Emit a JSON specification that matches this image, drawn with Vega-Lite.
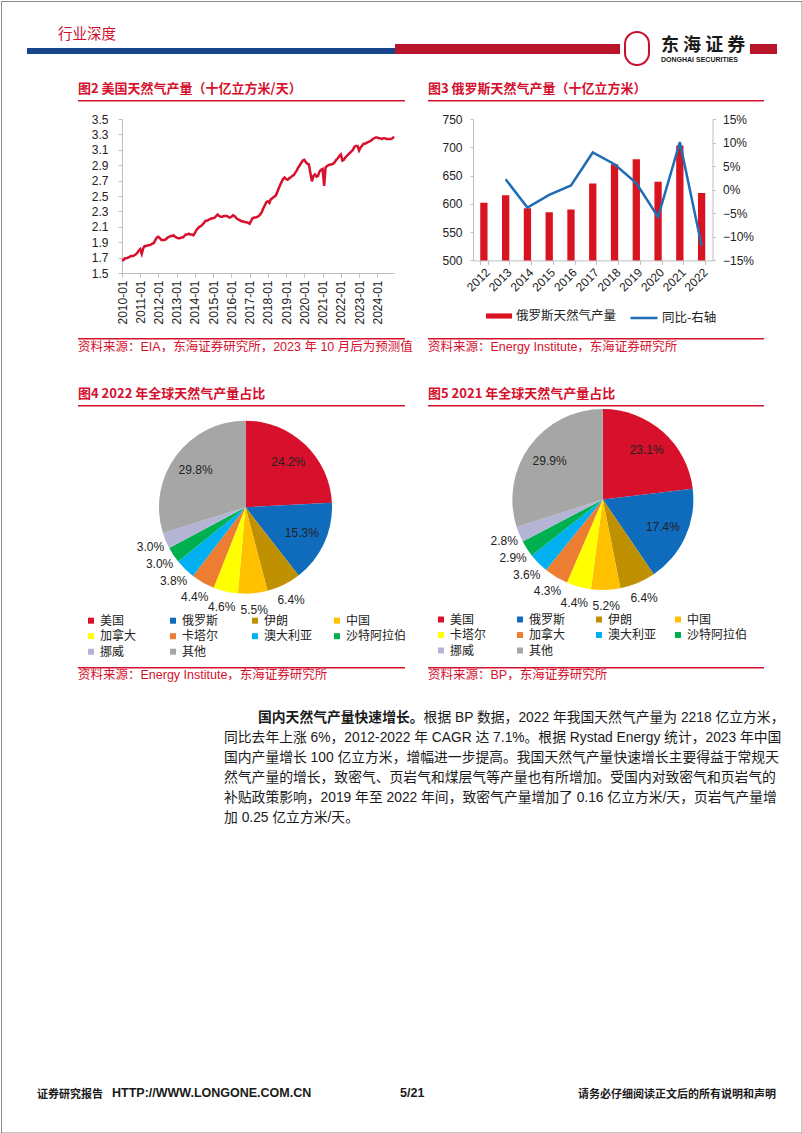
{
"$schema": "https://vega.github.io/schema/vega-lite/v6.json",
"padding": 0,
"background": "white",
"bounds": "flush",
"spacing": 0,
"resolve": {"scale": {"color": "independent", "fill": "independent", "stroke": "independent", "theta": "independent", "x": "independent", "y": "independent"}, "legend": {"color": "independent", "fill": "independent", "stroke": "independent"}},
"config": {
  "view": {"stroke": null},
  "font": "Liberation Sans, Noto Sans CJK SC",
  "axis": {"labelFont": "Liberation Sans", "labelFontSize": 12, "labelColor": "#222222", "domainColor": "#BFBFBF", "tickColor": "#BFBFBF", "grid": false, "labelFlush": false, "labelOverlap": false, "labelBound": false}
},
"datasets": {
  "e": [],
  "us": [
{"d":"2010-01","v":1.66},{"d":"2010-02","v":1.67},{"d":"2010-03","v":1.69},{"d":"2010-04","v":1.69},{"d":"2010-05","v":1.70},{"d":"2010-06","v":1.71},{"d":"2010-07","v":1.72},{"d":"2010-08","v":1.72},{"d":"2010-09","v":1.73},{"d":"2010-10","v":1.74},{"d":"2010-11","v":1.76},{"d":"2010-12","v":1.79},
{"d":"2011-01","v":1.81},{"d":"2011-02","v":1.75},{"d":"2011-03","v":1.82},{"d":"2011-04","v":1.85},{"d":"2011-05","v":1.85},{"d":"2011-06","v":1.86},{"d":"2011-07","v":1.86},{"d":"2011-08","v":1.87},{"d":"2011-09","v":1.88},{"d":"2011-10","v":1.89},{"d":"2011-11","v":1.93},{"d":"2011-12","v":1.96},
{"d":"2012-01","v":1.97},{"d":"2012-02","v":1.95},{"d":"2012-03","v":1.93},{"d":"2012-04","v":1.93},{"d":"2012-05","v":1.93},{"d":"2012-06","v":1.94},{"d":"2012-07","v":1.96},{"d":"2012-08","v":1.97},{"d":"2012-09","v":1.98},{"d":"2012-10","v":1.98},{"d":"2012-11","v":1.99},{"d":"2012-12","v":1.97},
{"d":"2013-01","v":1.96},{"d":"2013-02","v":1.95},{"d":"2013-03","v":1.95},{"d":"2013-04","v":1.96},{"d":"2013-05","v":1.96},{"d":"2013-06","v":1.98},{"d":"2013-07","v":2.00},{"d":"2013-08","v":2.00},{"d":"2013-09","v":2.01},{"d":"2013-10","v":2.00},{"d":"2013-11","v":2.00},{"d":"2013-12","v":1.99},
{"d":"2014-01","v":2.02},{"d":"2014-02","v":2.06},{"d":"2014-03","v":2.08},{"d":"2014-04","v":2.10},{"d":"2014-05","v":2.11},{"d":"2014-06","v":2.13},{"d":"2014-07","v":2.15},{"d":"2014-08","v":2.18},{"d":"2014-09","v":2.18},{"d":"2014-10","v":2.19},{"d":"2014-11","v":2.20},{"d":"2014-12","v":2.21},
{"d":"2015-01","v":2.21},{"d":"2015-02","v":2.22},{"d":"2015-03","v":2.24},{"d":"2015-04","v":2.26},{"d":"2015-05","v":2.24},{"d":"2015-06","v":2.23},{"d":"2015-07","v":2.23},{"d":"2015-08","v":2.24},{"d":"2015-09","v":2.24},{"d":"2015-10","v":2.24},{"d":"2015-11","v":2.23},{"d":"2015-12","v":2.22},
{"d":"2016-01","v":2.23},{"d":"2016-02","v":2.25},{"d":"2016-03","v":2.24},{"d":"2016-04","v":2.22},{"d":"2016-05","v":2.20},{"d":"2016-06","v":2.19},{"d":"2016-07","v":2.18},{"d":"2016-08","v":2.17},{"d":"2016-09","v":2.17},{"d":"2016-10","v":2.16},{"d":"2016-11","v":2.16},{"d":"2016-12","v":2.15},
{"d":"2017-01","v":2.14},{"d":"2017-02","v":2.18},{"d":"2017-03","v":2.21},{"d":"2017-04","v":2.22},{"d":"2017-05","v":2.22},{"d":"2017-06","v":2.23},{"d":"2017-07","v":2.24},{"d":"2017-08","v":2.26},{"d":"2017-09","v":2.29},{"d":"2017-10","v":2.34},{"d":"2017-11","v":2.38},{"d":"2017-12","v":2.42},
{"d":"2018-01","v":2.43},{"d":"2018-02","v":2.41},{"d":"2018-03","v":2.46},{"d":"2018-04","v":2.47},{"d":"2018-05","v":2.49},{"d":"2018-06","v":2.50},{"d":"2018-07","v":2.54},{"d":"2018-08","v":2.59},{"d":"2018-09","v":2.64},{"d":"2018-10","v":2.68},{"d":"2018-11","v":2.72},{"d":"2018-12","v":2.74},
{"d":"2019-01","v":2.72},{"d":"2019-02","v":2.71},{"d":"2019-03","v":2.73},{"d":"2019-04","v":2.74},{"d":"2019-05","v":2.76},{"d":"2019-06","v":2.77},{"d":"2019-07","v":2.80},{"d":"2019-08","v":2.83},{"d":"2019-09","v":2.87},{"d":"2019-10","v":2.90},{"d":"2019-11","v":2.93},{"d":"2019-12","v":2.96},
{"d":"2020-01","v":2.97},{"d":"2020-02","v":2.94},{"d":"2020-03","v":2.92},{"d":"2020-04","v":2.91},{"d":"2020-05","v":2.80},{"d":"2020-06","v":2.69},{"d":"2020-07","v":2.76},{"d":"2020-08","v":2.78},{"d":"2020-09","v":2.75},{"d":"2020-10","v":2.76},{"d":"2020-11","v":2.82},{"d":"2020-12","v":2.84},
{"d":"2021-01","v":2.85},{"d":"2021-02","v":2.63},{"d":"2021-03","v":2.87},{"d":"2021-04","v":2.89},{"d":"2021-05","v":2.90},{"d":"2021-06","v":2.91},{"d":"2021-07","v":2.91},{"d":"2021-08","v":2.92},{"d":"2021-09","v":2.94},{"d":"2021-10","v":2.97},{"d":"2021-11","v":2.99},{"d":"2021-12","v":3.02},
{"d":"2022-01","v":3.04},{"d":"2022-02","v":2.96},{"d":"2022-03","v":2.97},{"d":"2022-04","v":3.00},{"d":"2022-05","v":3.02},{"d":"2022-06","v":3.04},{"d":"2022-07","v":3.06},{"d":"2022-08","v":3.08},{"d":"2022-09","v":3.10},{"d":"2022-10","v":3.14},{"d":"2022-11","v":3.15},{"d":"2022-12","v":3.15},
{"d":"2023-01","v":3.09},{"d":"2023-02","v":3.13},{"d":"2023-03","v":3.15},{"d":"2023-04","v":3.18},{"d":"2023-05","v":3.18},{"d":"2023-06","v":3.19},{"d":"2023-07","v":3.20},{"d":"2023-08","v":3.21},{"d":"2023-09","v":3.22},{"d":"2023-10","v":3.24},{"d":"2023-11","v":3.25},{"d":"2023-12","v":3.26},
{"d":"2024-01","v":3.26},{"d":"2024-02","v":3.25},{"d":"2024-03","v":3.25},{"d":"2024-04","v":3.24},{"d":"2024-05","v":3.25},{"d":"2024-06","v":3.25},{"d":"2024-07","v":3.24},{"d":"2024-08","v":3.24},{"d":"2024-09","v":3.24},{"d":"2024-10","v":3.24},{"d":"2024-11","v":3.25},{"d":"2024-12","v":3.27}
  ],
  "ru": [
    {"yr":"2012","p":602,"g":null},{"yr":"2013","p":615,"g":0.022},{"yr":"2014","p":592,"g":-0.038},{"yr":"2015","p":585,"g":-0.011},{"yr":"2016","p":590,"g":0.009},{"yr":"2017","p":636,"g":0.079},{"yr":"2018","p":670,"g":0.054},{"yr":"2019","p":679,"g":0.014},{"yr":"2020","p":639,"g":-0.058},{"yr":"2021","p":703,"g":0.101},{"yr":"2022","p":619,"g":-0.119}
  ],
  "p22": [
    {"c":"美国","s":0.242,"k":1},{"c":"俄罗斯","s":0.153,"k":2},{"c":"伊朗","s":0.064,"k":3},{"c":"中国","s":0.055,"k":4},{"c":"加拿大","s":0.046,"k":5},{"c":"卡塔尔","s":0.044,"k":6},{"c":"澳大利亚","s":0.038,"k":7},{"c":"沙特阿拉伯","s":0.030,"k":8},{"c":"挪威","s":0.030,"k":9},{"c":"其他","s":0.298,"k":10}
  ],
  "p21": [
    {"c":"美国","s":0.231,"k":1},{"c":"俄罗斯","s":0.174,"k":2},{"c":"伊朗","s":0.064,"k":3},{"c":"中国","s":0.052,"k":4},{"c":"卡塔尔","s":0.044,"k":5},{"c":"加拿大","s":0.043,"k":6},{"c":"澳大利亚","s":0.036,"k":7},{"c":"沙特阿拉伯","s":0.029,"k":8},{"c":"挪威","s":0.028,"k":9},{"c":"其他","s":0.299,"k":10}
  ],
  "para": [
    {"ln":1,"seg":"b","t":"国内天然气产量快速增长。"},
    {"ln":1,"seg":"r","t":"根据 BP 数据，2022 年我国天然气产量为 2218 亿立方米，"},
    {"ln":2,"seg":"n","t":"同比去年上涨 6%，2012-2022 年 CAGR 达 7.1%。根据 Rystad Energy 统计，2023 年中国"},
    {"ln":3,"seg":"n","t":"国内产量增长 100 亿立方米，增幅进一步提高。我国天然气产量快速增长主要得益于常规天"},
    {"ln":4,"seg":"n","t":"然气产量的增长，致密气、页岩气和煤层气等产量也有所增加。受国内对致密气和页岩气的"},
    {"ln":5,"seg":"n","t":"补贴政策影响，2019 年至 2022 年间，致密气产量增加了 0.16 亿立方米/天，页岩气产量增"},
    {"ln":6,"seg":"n","t":"加 0.25 亿立方米/天。"}
  ]
},
"hconcat": [
  {
    "columns": 6, "spacing": 0, "bounds": "flush", "align": "each",
    "concat": [
      {"width": 26, "height": 43, "data": {"name": "e"}, "mark": "point"},
      {"width": 31, "height": 1, "data": {"name": "e"}, "mark": "point"},
      {"width": 337, "height": 1, "data": {"name": "e"}, "mark": "point"},
      {"width": 225, "height": 1, "data": {"name": "e"}, "mark": "point"},
      {"width": 130, "height": 1, "data": {"name": "e"}, "mark": "point"},
      {"width": 27, "height": 1, "data": {"name": "e"}, "mark": "point"},

      {"width": 26, "height": 4, "data": {"name": "e"}, "mark": "point"},
      {"width": 31, "height": 4, "data": {"name": "e"}, "mark": "point"},
      {"width": 337, "height": 4, "data": {"name": "e"}, "mark": "point",
       "title": {"text": "行业深度", "anchor": "start", "frame": "group", "orient": "top", "offset": 1.4, "font": "Noto Sans CJK SC", "fontSize": 14.5, "fontWeight": "normal", "color": "#D20A2B"}},
      {"width": 225, "height": 4, "view": {"fill": "#B8142A"}, "data": {"name": "e"}, "mark": "point"},
      {"width": 130, "height": 4, "data": {"name": "e"}, "mark": "point",
       "title": {"text": "东 海 证 券", "subtitle": "DONGHAI SECURITIES", "anchor": "start", "frame": "group", "orient": "top", "dx": 41, "offset": -19, "font": "Noto Sans CJK SC", "fontSize": 18, "fontWeight": "bold", "color": "#1a1a1a", "subtitleFont": "Liberation Sans", "subtitleFontSize": 7, "subtitleFontWeight": "bold", "subtitleColor": "#1a1a1a", "subtitlePadding": 1.5}},
      {"width": 27, "height": 4, "view": {"fill": "#B8142A"}, "data": {"name": "e"}, "mark": "point"},

      {"width": 26, "height": 6, "data": {"name": "e"}, "mark": "point"},
      {"width": 31, "height": 6, "view": {"fill": "#17468C"}, "data": {"name": "e"}, "mark": "point"},
      {"width": 337, "height": 6, "view": {"fill": "#17468C"}, "data": {"name": "e"}, "mark": "point"},
      {"width": 225, "height": 6, "view": {"fill": "#B8142A"}, "data": {"name": "e"}, "mark": "point"},
      {"width": 130, "height": 6, "data": {"name": "e"}, "mark": "point"},
      {"width": 27, "height": 6, "view": {"fill": "#B8142A"}, "data": {"name": "e"}, "mark": "point"}
    ]
  },
  {
    "columns": 2, "spacing": 0, "bounds": "flush", "align": "each",
    "concat": [
      {"width": 624, "height": 31, "data": {"name": "e"}, "mark": "point"},
      {"width": 1, "height": 1, "data": {"name": "e"}, "mark": "point"},
      {"width": 1, "height": 1, "data": {"name": "e"}, "mark": "point"},
      {"width": 24, "height": 33, "view": {"stroke": "#C8102E", "strokeWidth": 2, "cornerRadius": 12}, "data": {"name": "e"}, "mark": "point"}
    ]
  },
  {
    "columns": 4, "spacing": 0, "bounds": "flush", "align": "each",
    "concat": [
      {"width": 77, "height": 98.5, "data": {"name": "e"}, "mark": "point"},
      {"width": 1, "height": 1, "data": {"name": "e"}, "mark": "point"},
      {"width": 23, "height": 1, "data": {"name": "e"}, "mark": "point"},
      {"width": 1, "height": 1, "data": {"name": "e"}, "mark": "point"},

      {"width": 1, "height": 1.5, "data": {"name": "e"}, "mark": "point"},
      {"width": 327, "height": 1.5, "view": {"fill": "#D5102D"}, "data": {"name": "e"}, "mark": "point",
       "title": {"text": "图2  美国天然气产量（十亿立方米/天）", "anchor": "start", "frame": "group", "orient": "top", "offset": 4.5, "font": "Noto Sans CJK SC", "fontSize": 13, "fontWeight": "bold", "color": "#D5102D"}},
      {"width": 23, "height": 1.5, "data": {"name": "e"}, "mark": "point"},
      {"width": 336, "height": 1.5, "view": {"fill": "#D5102D"}, "data": {"name": "e"}, "mark": "point",
       "title": {"text": "图3  俄罗斯天然气产量（十亿立方米）", "anchor": "start", "frame": "group", "orient": "top", "offset": 4.5, "font": "Noto Sans CJK SC", "fontSize": 13, "fontWeight": "bold", "color": "#D5102D"}},

      {"width": 1, "height": 236, "data": {"name": "e"}, "mark": "point"},
      {"width": 1, "height": 1, "data": {"name": "e"}, "mark": "point"},
      {"width": 1, "height": 1, "data": {"name": "e"}, "mark": "point"},
      {"width": 1, "height": 1, "data": {"name": "e"}, "mark": "point"},

      {"width": 1, "height": 1.5, "data": {"name": "e"}, "mark": "point"},
      {"width": 327, "height": 1.5, "view": {"fill": "#D5102D"}, "data": {"name": "e"}, "mark": "point",
       "title": {"text": "资料来源：EIA，东海证券研究所，2023 年 10 月后为预测值", "anchor": "start", "frame": "group", "orient": "bottom", "offset": 1.5, "font": "Liberation Sans, Noto Sans CJK SC", "fontSize": 12.5, "fontWeight": "normal", "color": "#D5102D"}},
      {"width": 23, "height": 1.5, "data": {"name": "e"}, "mark": "point"},
      {"width": 336, "height": 1.5, "view": {"fill": "#D5102D"}, "data": {"name": "e"}, "mark": "point",
       "title": {"text": "资料来源：Energy Institute，东海证券研究所", "anchor": "start", "frame": "group", "orient": "bottom", "offset": 1.5, "font": "Liberation Sans, Noto Sans CJK SC", "fontSize": 12.5, "fontWeight": "normal", "color": "#D5102D"}},

      {"width": 1, "height": 65, "data": {"name": "e"}, "mark": "point"},
      {"width": 1, "height": 1, "data": {"name": "e"}, "mark": "point"},
      {"width": 1, "height": 1, "data": {"name": "e"}, "mark": "point"},
      {"width": 1, "height": 1, "data": {"name": "e"}, "mark": "point"},

      {"width": 1, "height": 1.5, "data": {"name": "e"}, "mark": "point"},
      {"width": 327, "height": 1.5, "view": {"fill": "#D5102D"}, "data": {"name": "e"}, "mark": "point",
       "title": {"text": "图4  2022 年全球天然气产量占比", "anchor": "start", "frame": "group", "orient": "top", "offset": 4.5, "font": "Noto Sans CJK SC", "fontSize": 13, "fontWeight": "bold", "color": "#D5102D"}},
      {"width": 23, "height": 1.5, "data": {"name": "e"}, "mark": "point"},
      {"width": 336, "height": 1.5, "view": {"fill": "#D5102D"}, "data": {"name": "e"}, "mark": "point",
       "title": {"text": "图5  2021 年全球天然气产量占比", "anchor": "start", "frame": "group", "orient": "top", "offset": 4.5, "font": "Noto Sans CJK SC", "fontSize": 13, "fontWeight": "bold", "color": "#D5102D"}},

      {"width": 1, "height": 259.3, "data": {"name": "e"}, "mark": "point"},
      {"width": 1, "height": 1, "data": {"name": "e"}, "mark": "point"},
      {"width": 1, "height": 1, "data": {"name": "e"}, "mark": "point"},
      {"width": 1, "height": 1, "data": {"name": "e"}, "mark": "point"},

      {"width": 1, "height": 1.5, "data": {"name": "e"}, "mark": "point"},
      {"width": 327, "height": 1.5, "view": {"fill": "#D5102D"}, "data": {"name": "e"}, "mark": "point",
       "title": {"text": "资料来源：Energy Institute，东海证券研究所", "anchor": "start", "frame": "group", "orient": "bottom", "offset": 0.5, "font": "Liberation Sans, Noto Sans CJK SC", "fontSize": 12.5, "fontWeight": "normal", "color": "#D5102D"}},
      {"width": 23, "height": 1.5, "data": {"name": "e"}, "mark": "point"},
      {"width": 336, "height": 1.5, "view": {"fill": "#D5102D"}, "data": {"name": "e"}, "mark": "point",
       "title": {"text": "资料来源：BP，东海证券研究所", "anchor": "start", "frame": "group", "orient": "bottom", "offset": 0.5, "font": "Liberation Sans, Noto Sans CJK SC", "fontSize": 12.5, "fontWeight": "normal", "color": "#D5102D"}}
    ]
  },
  {
    "columns": 4, "spacing": 0, "bounds": "flush", "align": "each",
    "resolve": {"scale": {"color": "independent", "stroke": "independent", "x": "independent", "y": "independent"}, "legend": {"color": "independent", "stroke": "independent"}},
    "concat": [
      {"width": 121, "height": 117.5, "data": {"name": "e"}, "mark": "point"},
      {"width": 1, "height": 1, "data": {"name": "e"}, "mark": "point"},
      {"width": 79, "height": 1, "data": {"name": "e"}, "mark": "point"},
      {"width": 1, "height": 1, "data": {"name": "e"}, "mark": "point"},

      {"width": 1, "height": 1, "data": {"name": "e"}, "mark": "point"},
      {
        "width": 272, "height": 154,
        "data": {"name": "us"},
        "mark": {"type": "line", "color": "#D7102E", "strokeWidth": 2.5},
        "encoding": {
          "x": {"field": "d", "type": "temporal", "scale": {"type": "utc", "nice": false},
                "axis": {"title": null, "format": "%Y-%m", "tickCount": {"interval": "year", "step": 1}, "labelAngle": -90, "tickSize": 4, "labelPadding": 3}},
          "y": {"field": "v", "type": "quantitative", "scale": {"domain": [1.5, 3.5], "nice": false, "zero": false},
                "axis": {"title": null, "values": [1.5, 1.7, 1.9, 2.1, 2.3, 2.5, 2.7, 2.9, 3.1, 3.3, 3.5], "format": ".1f", "tickSize": 4, "labelPadding": 10}}
        }
      },
      {"width": 79, "height": 1, "data": {"name": "e"}, "mark": "point"},
      {
        "width": 239.5, "height": 141.4,
        "data": {"name": "ru"},
        "layer": [
          {
            "mark": {"type": "bar", "clip": true},
            "encoding": {
              "x": {"field": "yr", "type": "ordinal", "scale": {"paddingInner": 0.665, "paddingOuter": 0.3325},
                    "axis": {"title": null, "labelAngle": -45, "tickBand": "extent", "tickSize": 4, "labelPadding": 2}},
              "y": {"field": "p", "type": "quantitative", "scale": {"domain": [500, 750], "nice": false, "zero": false},
                    "axis": {"title": null, "values": [500, 550, 600, 650, 700, 750], "tickSize": 3, "labelPadding": 8}},
              "color": {"datum": "俄罗斯天然气产量", "scale": {"range": ["#D7141F"]},
                        "legend": {"orient": "none", "legendX": 13, "legendY": 184, "title": null, "symbolType": "M-1,-0.2H1V0.2H-1Z", "symbolSize": 676, "symbolStrokeWidth": 0, "labelFont": "Noto Sans CJK SC", "labelFontSize": 12.5, "labelColor": "#222222", "labelOffset": 4, "padding": 0}}
            }
          },
          {
            "transform": [{"filter": "datum.g != null"}],
            "mark": {"type": "line", "strokeWidth": 2.5},
            "encoding": {
              "x": {"field": "yr", "type": "ordinal"},
              "y": {"field": "g", "type": "quantitative", "scale": {"domain": [-0.15, 0.15], "nice": false, "zero": false},
                    "axis": {"title": null, "orient": "right", "values": [-0.15, -0.1, -0.05, 0, 0.05, 0.1, 0.15], "format": ".0%", "tickSize": 3, "labelPadding": 7}},
              "stroke": {"datum": "同比-右轴", "scale": {"range": ["#1F6DB5"]},
                         "legend": {"orient": "none", "legendX": 156, "legendY": 184, "title": null, "symbolType": "stroke", "symbolSize": 729, "symbolStrokeWidth": 2.5, "labelFont": "Noto Sans CJK SC", "labelFontSize": 12.5, "labelColor": "#222222", "labelOffset": 3, "padding": 0}}
            }
          }
        ],
        "resolve": {"scale": {"y": "independent"}}
      }
    ]
  },
  {
    "columns": 4, "spacing": 0, "bounds": "flush", "align": "each",
    "resolve": {"scale": {"color": "independent", "theta": "independent"}, "legend": {"color": "independent"}},
    "concat": [
      {"width": 157.8, "height": 407.3, "data": {"name": "e"}, "mark": "point"},
      {"width": 1, "height": 1, "data": {"name": "e"}, "mark": "point"},
      {"width": 179.2, "height": 1, "data": {"name": "e"}, "mark": "point"},
      {"width": 1, "height": 1, "data": {"name": "e"}, "mark": "point"},

      {"width": 1, "height": 1, "data": {"name": "e"}, "mark": "point"},
      {
        "width": 173, "height": 196.4,
        "data": {"name": "p22"},
        "encoding": {
          "theta": {"field": "s", "type": "quantitative", "stack": true},
          "order": {"field": "k", "type": "quantitative"}
        },
        "layer": [
          {"mark": {"type": "arc", "outerRadius": 86.5},
           "encoding": {"color": {"field": "c", "type": "nominal",
             "scale": {"domain": ["美国","俄罗斯","伊朗","中国","加拿大","卡塔尔","澳大利亚","沙特阿拉伯","挪威","其他"],
                       "range": ["#D7102B","#0F6CBD","#BF9000","#FFC000","#FFFF00","#ED7D31","#00B0F0","#00B050","#B4B4D4","#A6A6A6"]},
             "legend": {"orient": "none", "direction": "horizontal", "legendX": -74, "legendY": 205.7, "columns": 4, "title": null, "symbolType": "square", "symbolSize": 36, "symbolStrokeWidth": 0, "labelFont": "Noto Sans CJK SC", "labelFontSize": 12, "labelColor": "#222222", "labelOffset": 3, "gridAlign": "all", "columnPadding": 6, "rowPadding": 3.5, "padding": 0}}}},
          {"mark": {"type": "text", "radius": 62, "fontSize": 12, "font": "Liberation Sans", "fill": "#222222"},
           "encoding": {"detail": {"field": "c", "type": "nominal"},
             "text": {"condition": {"test": "datum.s >= 0.1", "field": "s", "type": "quantitative", "format": ".1%"}, "value": ""}}},
          {"mark": {"type": "text", "radius": 103, "fontSize": 12, "font": "Liberation Sans", "fill": "#222222"},
           "encoding": {"detail": {"field": "c", "type": "nominal"},
             "text": {"condition": {"test": "datum.s < 0.1", "field": "s", "type": "quantitative", "format": ".1%"}, "value": ""}}}
        ]
      },
      {"width": 179.2, "height": 1, "data": {"name": "e"}, "mark": "point"},
      {
        "width": 181.7, "height": 181,
        "data": {"name": "p21"},
        "encoding": {
          "theta": {"field": "s", "type": "quantitative", "stack": true},
          "order": {"field": "k", "type": "quantitative"}
        },
        "layer": [
          {"mark": {"type": "arc", "outerRadius": 90.5},
           "encoding": {"color": {"field": "c", "type": "nominal",
             "scale": {"domain": ["美国","俄罗斯","伊朗","中国","卡塔尔","加拿大","澳大利亚","沙特阿拉伯","挪威","其他"],
                       "range": ["#D7102B","#0F6CBD","#BF9000","#FFC000","#FFFF00","#ED7D31","#00B0F0","#00B050","#B4B4D4","#A6A6A6"]},
             "legend": {"orient": "none", "direction": "horizontal", "legendX": -77, "legendY": 204.5, "columns": 4, "title": null, "symbolType": "square", "symbolSize": 36, "symbolStrokeWidth": 0, "labelFont": "Noto Sans CJK SC", "labelFontSize": 12, "labelColor": "#222222", "labelOffset": 3, "gridAlign": "all", "columnPadding": 3, "rowPadding": 3.5, "padding": 0}}}},
          {"mark": {"type": "text", "radius": 66, "fontSize": 12, "font": "Liberation Sans", "fill": "#222222"},
           "encoding": {"detail": {"field": "c", "type": "nominal"},
             "text": {"condition": {"test": "datum.s >= 0.1", "field": "s", "type": "quantitative", "format": ".1%"}, "value": ""}}},
          {"mark": {"type": "text", "radius": 107, "fontSize": 12, "font": "Liberation Sans", "fill": "#222222"},
           "encoding": {"detail": {"field": "c", "type": "nominal"},
             "text": {"condition": {"test": "datum.s < 0.1", "field": "s", "type": "quantitative", "format": ".1%"}, "value": ""}}}
        ]
      }
    ]
  },
  {
    "columns": 2, "spacing": 0, "bounds": "flush", "align": "each",
    "concat": [
      {"width": 223, "height": 707, "data": {"name": "e"}, "mark": "point"},
      {"width": 1, "height": 1, "data": {"name": "e"}, "mark": "point"},
      {"width": 1, "height": 1, "data": {"name": "e"}, "mark": "point"},
      {
        "width": 556, "height": 120,
        "data": {"name": "para"},
        "encoding": {
          "y": {"field": "ln", "type": "ordinal", "scale": {"domain": [1, 2, 3, 4, 5, 6]}, "axis": null},
          "x": {"datum": 0, "type": "quantitative", "scale": {"domain": [0, 1]}, "axis": null},
          "text": {"field": "t", "type": "nominal"}
        },
        "layer": [
          {"transform": [{"filter": "datum.seg == 'b'"}],
           "mark": {"type": "text", "align": "left", "baseline": "middle", "dx": 34, "font": "Noto Sans CJK SC", "fontSize": 13.8, "fontWeight": "bold", "fill": "#1a1a1a"}},
          {"transform": [{"filter": "datum.seg == 'r'"}],
           "mark": {"type": "text", "align": "left", "baseline": "middle", "dx": 199.6, "font": "Liberation Sans, Noto Sans CJK SC", "fontSize": 13.8, "fill": "#1a1a1a"}},
          {"transform": [{"filter": "datum.seg == 'n'"}],
           "mark": {"type": "text", "align": "left", "baseline": "middle", "dx": 0, "font": "Liberation Sans, Noto Sans CJK SC", "fontSize": 13.8, "fill": "#1a1a1a"}}
        ]
      }
    ]
  },
  {
    "columns": 5, "spacing": 0, "bounds": "flush", "align": "each",
    "concat": [
      {"width": 36, "height": 1100, "data": {"name": "e"}, "mark": "point"},
      {"width": 1, "height": 1, "data": {"name": "e"}, "mark": "point"},
      {"width": 1, "height": 1, "data": {"name": "e"}, "mark": "point"},
      {"width": 1, "height": 1, "data": {"name": "e"}, "mark": "point"},
      {"width": 1, "height": 1, "data": {"name": "e"}, "mark": "point"},

      {"width": 1, "height": 2, "data": {"name": "e"}, "mark": "point"},
      {"width": 75, "height": 2, "data": {"name": "e"}, "mark": "point",
       "title": {"text": "证券研究报告", "anchor": "start", "frame": "group", "orient": "top", "offset": 1.2, "font": "Noto Sans CJK SC", "fontSize": 11, "fontWeight": "bold", "color": "#1a1a1a"}},
      {"width": 288, "height": 2, "data": {"name": "e"}, "mark": "point",
       "title": {"text": "HTTP://WWW.LONGONE.COM.CN", "anchor": "start", "frame": "group", "orient": "top", "offset": 1.2, "font": "Liberation Sans Narrow, Liberation Sans", "fontSize": 12.5, "fontWeight": "bold", "color": "#1a1a1a"}},
      {"width": 178, "height": 2, "data": {"name": "e"}, "mark": "point",
       "title": {"text": "5/21", "anchor": "start", "frame": "group", "orient": "top", "offset": 1.2, "font": "Liberation Sans Narrow, Liberation Sans", "fontSize": 12.5, "fontWeight": "bold", "color": "#1a1a1a"}},
      {"width": 200, "height": 2, "data": {"name": "e"}, "mark": "point",
       "title": {"text": "请务必仔细阅读正文后的所有说明和声明", "anchor": "start", "frame": "group", "orient": "top", "offset": 1.2, "font": "Noto Sans CJK SC", "fontSize": 11, "fontWeight": "bold", "color": "#1a1a1a"}}
    ]
  },
  {"width": 800.5, "height": 1131.5, "view": {"stroke": "#8a8a8a", "strokeWidth": 1}, "data": {"name": "e"}, "mark": "point"}
]
}
